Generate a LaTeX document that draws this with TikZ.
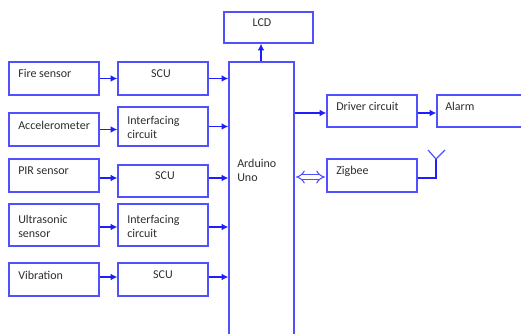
\documentclass[tikz,border=0pt]{standalone}
\usepackage{fontspec}
\setmainfont{Carlito}
\usetikzlibrary{arrows.meta,fit}
\definecolor{boxblue}{RGB}{80,80,255}
\definecolor{wireblue}{RGB}{30,30,250}
\definecolor{txt}{RGB}{45,45,45}
\tikzset{
  box/.style={draw=boxblue,line width=1.1pt,inner sep=0pt,rectangle},
  lbl/.style={inner sep=0pt,anchor=west,text=txt,font=\fontsize{9}{10.5}\selectfont,align=left},
  clbl/.style={inner sep=0pt,anchor=center,text=txt,font=\fontsize{9}{10.5}\selectfont},
  wire/.style={draw=wireblue,line width=0.8pt},
  arr/.style={wire,-{Latex[length=5pt,width=5pt]}},
}
\begin{document}
\begin{tikzpicture}[x=0.75pt,y=-0.75pt]
\useasboundingbox (0,0) rectangle (521,334);
% boxes
\node[box,fit={(224,12) (313,43)}] (lcd) {};
\node[box,fit={(9,62) (99,95)}] (fire) {};
\node[box,fit={(118,62) (208,95)}] (scua) {};
\node[box,fit={(229,62) (294,345)}] (ard) {};
\node[box,fit={(9,113) (99,146)}] (acc) {};
\node[box,fit={(118,107) (208,146)}] (inta) {};
\node[box,fit={(9,159) (99,192)}] (pir) {};
\node[box,fit={(118,165) (208,197)}] (scub) {};
\node[box,fit={(9,204) (99,246)}] (ult) {};
\node[box,fit={(118,204) (208,246)}] (intb) {};
\node[box,fit={(9,263) (99,296)}] (vib) {};
\node[box,fit={(118,263) (208,296)}] (scuc) {};
\node[box,fit={(327,95) (417,127)}] (drv) {};
\node[box,fit={(437,95) (526,127)}] (alarm) {};
\node[box,fit={(327,159) (417,192)}] (zig) {};
% texts
\node[clbl] (tlcd) at (262,23) {LCD};
\node[lbl] (tfire) at (18,73) {Fire sensor};
\node[clbl] (tscua) at (161,74) {SCU};
\node[lbl] (tacc) at (18,125) {Accelerometer};
\node[lbl] (tinta) at (127,127) {Interfacing\\circuit};
\node[lbl] (tpir) at (18,171) {PIR sensor};
\node[clbl] (tscub) at (165,176) {SCU};
\node[lbl] (tult) at (18,226) {Ultrasonic\\sensor};
\node[lbl] (tintb) at (127,226) {Interfacing\\circuit};
\node[lbl] (tvib) at (18,275) {Vibration};
\node[clbl] (tscuc) at (163,275) {SCU};
\node[lbl] (tard) at (237,170) {Arduino\\Uno};
\node[lbl] (tdrv) at (336,106) {Driver circuit};
\node[lbl] (talarm) at (445,106) {Alarm};
\node[lbl] (tzig) at (336,171) {Zigbee};
% connectors
\draw[arr] (fire.east) -- (fire.east -| scua.west);
\draw[arr] (scua.east) -- (scua.east -| ard.west);
\draw[arr] (acc.east) -- (acc.east -| inta.west);
\draw[arr] (inta.east) -- (inta.east -| ard.west);
\draw[arr] (pir.east |- 0,178) -- (scub.west |- 0,178);
\draw[arr] (scub.east |- 0,178) -- (ard.west |- 0,178);
\draw[arr] (ult.east |- 0,227) -- (intb.west |- 0,227);
\draw[arr] (intb.east |- 0,227) -- (ard.west |- 0,227);
\draw[arr] (vib.east |- 0,277) -- (scuc.west |- 0,277);
\draw[arr] (scuc.east |- 0,277) -- (ard.west |- 0,277);
\draw[arr] (ard.north -| 261,0) -- (lcd.south -| 261,0);
\draw[arr] (ard.east |- 0,113) -- (drv.west |- 0,113);
\draw[arr] (drv.east |- 0,113) -- (alarm.west |- 0,113);
\draw[draw=boxblue,line width=0.8pt,double=white,double distance=2.6pt,{Implies[length=5pt,width=9pt]}-{Implies[length=5pt,width=9pt]}] ([xshift=1pt]ard.east |- 0,177) -- ([xshift=-1pt]zig.west |- 0,177);
\coordinate (ant) at (436,159);
\draw[wire] (zig.east |- 0,178) -| (ant);
\draw[draw=boxblue,line width=0.9pt] (428,150) -- (ant) -- (445,150);
\end{tikzpicture}
\end{document}
